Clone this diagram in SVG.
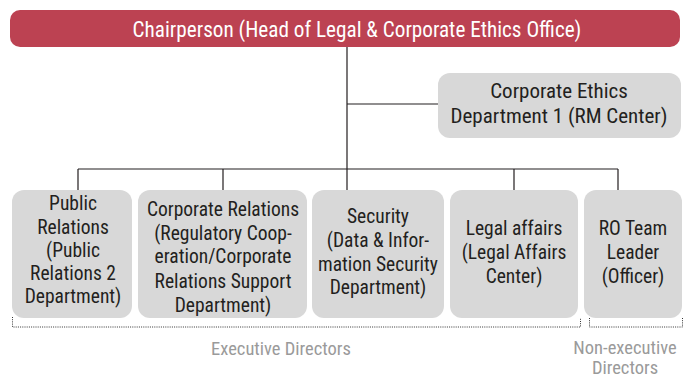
<svg xmlns="http://www.w3.org/2000/svg" width="689" height="379" viewBox="0 0 689 379">
<style>
text{font-family:"Liberation Sans Narrow","Roboto Condensed",Roboto,"Liberation Sans",sans-serif;text-anchor:middle}
.b{fill:#d8d8d8}
.t{font-size:19.5px;fill:#231f20}
.e{font-size:21px;fill:#231f20}
.c{stroke:#231f20;stroke-width:1.2;fill:none}
.d{stroke:#333;stroke-width:1;stroke-dasharray:1 1.2;fill:none}
.g{font-size:18.5px;fill:#9a9a9a}
</style>
<rect width="689" height="379" fill="#fff"/>
<g id="connectors">
<path class="c" d="M347 47V190M347 104H438M78 169H618M78 169V190M223 169V190M514 169V190M618 169V190"/>
</g>
<g id="chair">
<rect x="10" y="10" width="670" height="37" rx="10" fill="#bc4252"/>
<text x="357" y="37" style="font-size:21.2px;fill:#fff">Chairperson (Head of Legal &amp; Corporate Ethics Office)</text>
</g>
<g id="ethics">
<rect class="b" x="438" y="73" width="243" height="65" rx="12"/>
<text class="e" x="559" y="98">Corporate Ethics</text>
<text class="e" x="559" y="123">Department 1 (RM Center)</text>
</g>
<g id="pr">
<rect class="b" x="12" y="190" width="120" height="128" rx="12"/>
<text class="t" x="73" y="210">Public</text>
<text class="t" x="73" y="234">Relations</text>
<text class="t" x="73" y="257">(Public</text>
<text class="t" x="73" y="280">Relations 2</text>
<text class="t" x="73" y="303">Department)</text>
</g>
<g id="cr">
<rect class="b" x="138" y="190" width="169" height="128" rx="12"/>
<text class="t" x="223" y="216">Corporate Relations</text>
<text class="t" x="223" y="240">(Regulatory Coop-</text>
<text class="t" x="223" y="263">eration/Corporate</text>
<text class="t" x="223" y="288">Relations Support</text>
<text class="t" x="223" y="312">Department)</text>
</g>
<g id="sec">
<rect class="b" x="312" y="190" width="132" height="128" rx="12"/>
<text class="t" x="378" y="223">Security</text>
<text class="t" x="378" y="247">(Data &amp; Infor-</text>
<text class="t" x="378" y="271">mation Security</text>
<text class="t" x="378" y="294">Department)</text>
</g>
<g id="legal">
<rect class="b" x="450" y="190" width="128" height="128" rx="12"/>
<text class="t" x="514" y="235">Legal affairs</text>
<text class="t" x="514" y="259">(Legal Affairs</text>
<text class="t" x="514" y="283">Center)</text>
</g>
<g id="ro">
<rect class="b" x="584" y="190" width="98" height="128" rx="12"/>
<text class="t" x="633" y="235">RO Team</text>
<text class="t" x="633" y="259">Leader</text>
<text class="t" x="633" y="283">(Officer)</text>
</g>
<g id="groups">
<path class="d" d="M12.5 317V327H580.5V318"/>
<path class="d" d="M589.5 318V327H682.5V318"/>
<text class="g" x="281" y="355">Executive Directors</text>
<text class="g" x="625" y="354">Non-executive</text>
<text class="g" x="625" y="374">Directors</text>
</g>
</svg>
